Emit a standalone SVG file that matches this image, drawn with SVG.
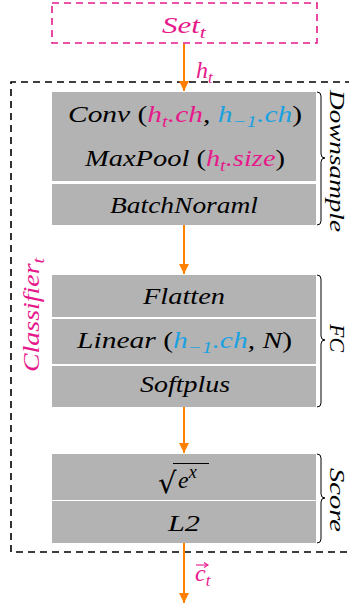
<svg xmlns="http://www.w3.org/2000/svg" width="349" height="605" viewBox="0 0 349 605">
<style>
.t{font-family:'Liberation Serif','Times New Roman',serif;font-style:italic;font-size:24px;fill:#000}
.s{font-size:22px}
.m{fill:#E6198C}
.b{fill:#1BA1E0}
.up{font-style:normal}
.blk{fill:#B3B3B3}
.br{fill:none;stroke:#000;stroke-width:1}
.ar{stroke:#FF8000;stroke-width:2;fill:none;marker-end:url(#ah)}
</style>
<defs>
<marker id="ah" viewBox="0 0 10 10" refX="10" refY="5" markerWidth="5" markerHeight="5" orient="auto" markerUnits="strokeWidth">
<path d="M0,0 L10,5 L0,10 z" fill="#FF8000"/>
</marker>
</defs>
<rect width="349" height="605" fill="#fff"/>

<g id="set">
<rect x="52" y="3" width="265" height="40" fill="none" stroke="#E6198C" stroke-width="1.6" stroke-dasharray="7,5"/>
<text class="t m" x="162" y="33" textLength="44" lengthAdjust="spacingAndGlyphs">Set<tspan font-size="17" baseline-shift="-5">t</tspan></text>
</g>

<g id="classifier">
<path d="M352,82 H11 V552 H352" fill="none" stroke="#000" stroke-width="1.6" stroke-dasharray="7,5"/>
<text class="t m" transform="translate(39,315) rotate(-90)" text-anchor="middle" textLength="114" lengthAdjust="spacingAndGlyphs">Classifier<tspan font-size="17" baseline-shift="-5">t</tspan></text>
</g>

<g id="conv">
<rect class="blk" x="52" y="92" width="264" height="89"/>
<text class="t" x="68" y="122" textLength="234" lengthAdjust="spacingAndGlyphs">Conv <tspan class="up">(</tspan><tspan class="m">h<tspan font-size="17" baseline-shift="-5">t</tspan>.ch</tspan>, <tspan class="b">h<tspan font-size="17" baseline-shift="-5">−1</tspan>.ch</tspan><tspan class="up">)</tspan></text>
<text class="t" x="85" y="166" textLength="200" lengthAdjust="spacingAndGlyphs">MaxPool <tspan class="up">(</tspan><tspan class="m">h<tspan font-size="17" baseline-shift="-5">t</tspan>.size</tspan><tspan class="up">)</tspan></text>
</g>
<g id="batchnorm">
<rect class="blk" x="52" y="184" width="264" height="41"/>
<text class="t" x="110" y="213" textLength="148" lengthAdjust="spacingAndGlyphs">BatchNoraml</text>
</g>

<g id="flatten">
<rect class="blk" x="52" y="275" width="264" height="42"/>
<text class="t" x="143" y="304" textLength="82" lengthAdjust="spacingAndGlyphs">Flatten</text>
</g>
<g id="linear">
<rect class="blk" x="52" y="319" width="264" height="45"/>
<text class="t" x="77" y="348" textLength="215" lengthAdjust="spacingAndGlyphs">Linear <tspan class="up">(</tspan><tspan class="b">h<tspan font-size="17" baseline-shift="-5">−1</tspan>.ch</tspan>, N<tspan class="up">)</tspan></text>
</g>
<g id="softplus">
<rect class="blk" x="52" y="366" width="264" height="41"/>
<text class="t" x="140" y="392" textLength="90" lengthAdjust="spacingAndGlyphs">Softplus</text>
</g>

<g id="sqrt">
<rect class="blk" x="52" y="454" width="264" height="46"/>
<text x="158" y="493" font-family="DejaVu Serif, serif" font-size="29" fill="#000">√</text>
<line x1="173" y1="463.5" x2="209" y2="463.5" stroke="#000" stroke-width="1.2"/>
<text class="t" x="178" y="488" font-size="27">e<tspan font-size="18" baseline-shift="10">x</tspan></text>
</g>
<g id="l2">
<rect class="blk" x="52" y="501" width="264" height="42"/>
<text class="t" x="168" y="531" textLength="32" lengthAdjust="spacingAndGlyphs">L2</text>
</g>

<g id="braces">
<path class="br" d="M317,92 Q321,92 321,96 V154 Q321,158 325,158 Q321,158 321,162 V221 Q321,225 317,225"/>
<text class="t s" transform="translate(330,161) rotate(90)" text-anchor="middle" textLength="142" lengthAdjust="spacingAndGlyphs">Downsample</text>
<path class="br" d="M317,275 Q321,275 321,279 V336 Q321,340 325,340 Q321,340 321,344 V403 Q321,407 317,407"/>
<text class="t s" transform="translate(330,338) rotate(90)" text-anchor="middle" textLength="28" lengthAdjust="spacingAndGlyphs">FC</text>
<path class="br" d="M317,454 Q321,454 321,458 V494 Q321,498 325,498 Q321,498 321,502 V539 Q321,543 317,543"/>
<text class="t s" transform="translate(330,500) rotate(90)" text-anchor="middle" textLength="64" lengthAdjust="spacingAndGlyphs">Score</text>
</g>

<g id="connectors">
<line class="ar" x1="184" y1="44" x2="184" y2="91"/>
<line class="ar" x1="184" y1="225" x2="184" y2="274"/>
<line class="ar" x1="184" y1="407" x2="184" y2="453"/>
<line class="ar" x1="184" y1="543" x2="184" y2="603"/>
<text class="t m" x="196" y="78">h<tspan font-size="17" baseline-shift="-5">t</tspan></text>
<text class="t m" x="195" y="581">c<tspan font-size="17" baseline-shift="-5">t</tspan></text>
<line x1="196" y1="565" x2="207" y2="565" stroke="#E6198C" stroke-width="1.1"/>
<path d="M204,562.5 L208,565 L204,567.5" fill="none" stroke="#E6198C" stroke-width="1.1"/>
</g>
</svg>
